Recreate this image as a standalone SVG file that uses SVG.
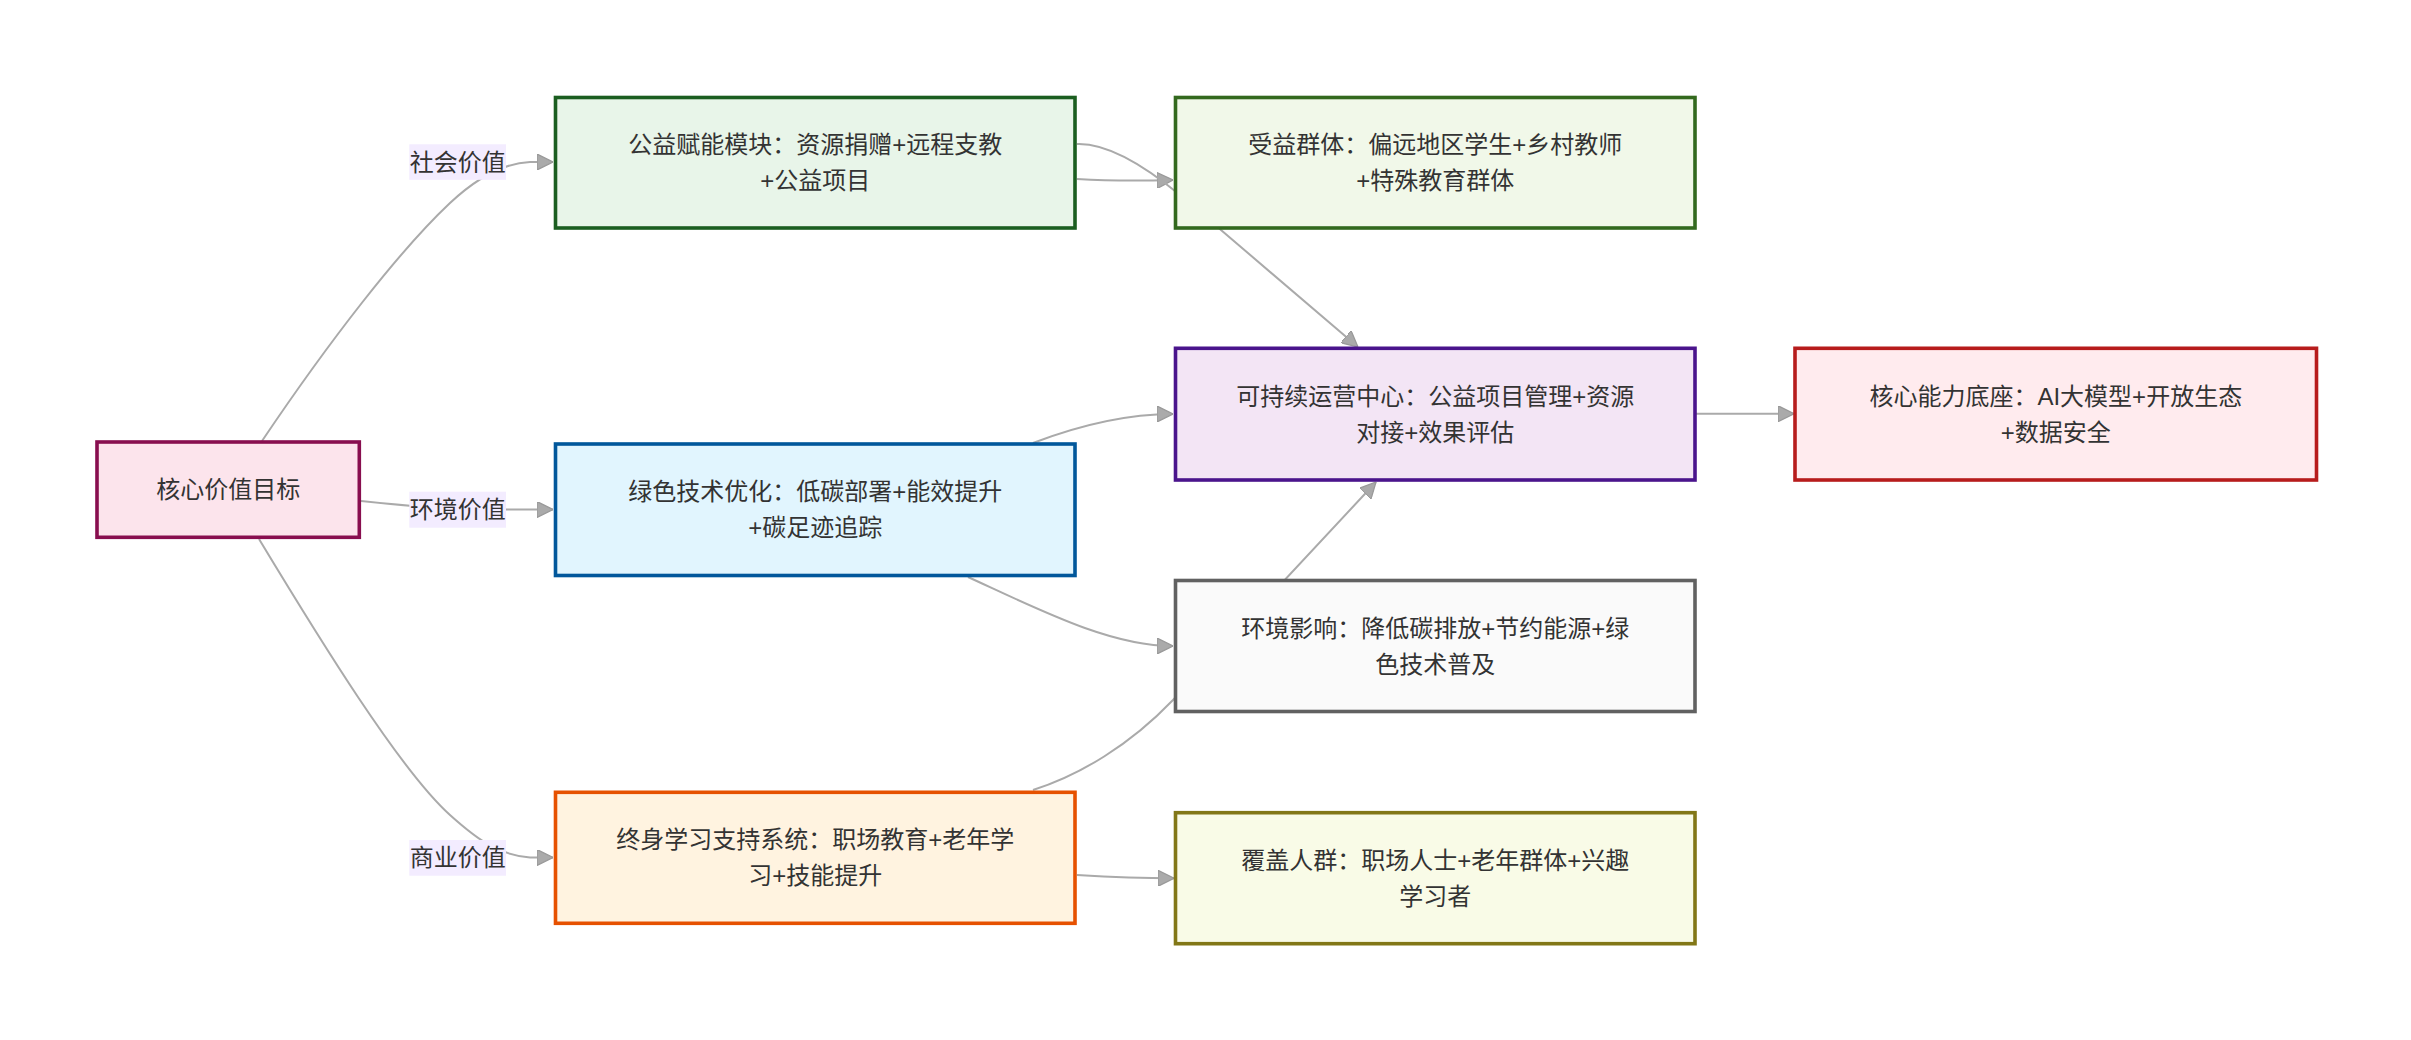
<svg xmlns="http://www.w3.org/2000/svg" width="2411" height="1040" viewBox="0 0 2411 1040">
<style>
  .node rect { stroke-width: 3.6; }
  .node text, .lbl text { font-family: "Liberation Sans", "Noto Sans CJK SC", sans-serif; font-size: 24px; fill: #333333; text-anchor: middle; dominant-baseline: central; }
  .edge { fill: none; stroke: #aaaaaa; stroke-width: 2; }
  .lbl rect { fill: #f3ecff; }
</style>
<defs>
  <marker id="arrow" viewBox="0 0 10 10" refX="10" refY="5" markerUnits="userSpaceOnUse" markerWidth="16" markerHeight="16" orient="auto">
    <path d="M0,0 L10,5 L0,10 z" fill="#aaaaaa" stroke="#999999" stroke-width="0.8"/>
  </marker>
</defs>
<rect x="0" y="0" width="2411" height="1040" fill="#ffffff"/>
<g id="connectors">
  <path class="edge" d="M262,441 C330,340 400,250 450,203 C480,175 505,163 530,162 L553,162" marker-end="url(#arrow)"/>
  <path class="edge" d="M361,501 C400,505 440,509 470,509.5 L553,509.5" marker-end="url(#arrow)"/>
  <path class="edge" d="M259,539 C320,640 400,770 450,815 C480,842 500,855 530,857.5 L553,857.5" marker-end="url(#arrow)"/>
  <path class="edge" d="M1077,179 C1110,181 1140,181 1173,180" marker-end="url(#arrow)"/>
  <path class="edge" d="M1077,144 C1105,143 1140,162 1180,195 L1358,347" marker-end="url(#arrow)"/>
  <path class="edge" d="M1033,443 C1080,425 1130,414 1173,414" marker-end="url(#arrow)"/>
  <path class="edge" d="M968,577 C1040,610 1110,646 1173,646" marker-end="url(#arrow)"/>
  <path class="edge" d="M1033,790 C1080,775 1130,745 1173,700 L1376,482" marker-end="url(#arrow)"/>
  <path class="edge" d="M1077,875 C1110,877 1140,878.3 1174,878.3" marker-end="url(#arrow)"/>
  <path class="edge" d="M1695,413.7 L1794,413.7" marker-end="url(#arrow)"/>
</g>
<g id="edge-labels">
  <g class="lbl" id="label-social"><rect x="409.3" y="144.3" width="96.7" height="35.5"/><text x="457.7" y="162">社会价值</text></g>
  <g class="lbl" id="label-env"><rect x="409.3" y="491.7" width="96.7" height="36"/><text x="457.7" y="509.7">环境价值</text></g>
  <g class="lbl" id="label-biz"><rect x="409.3" y="840" width="96.7" height="35.7"/><text x="457.7" y="857.8">商业价值</text></g>
</g>
<g class="node" id="node-core">
  <rect x="97" y="442" width="262.3" height="95.3" fill="#fce4ec" stroke="#880e4f"/>
  <text x="228.2" y="489.7">核心价值目标</text>
</g>
<g class="node" id="node-public">
  <rect x="555.5" y="97.5" width="519.5" height="130.5" fill="#e8f5e9" stroke="#1b5e20"/>
  <text x="815.3" y="144.7">公益赋能模块：资源捐赠+远程支教</text>
  <text x="815.3" y="180.7">+公益项目</text>
</g>
<g class="node" id="node-benef">
  <rect x="1175.5" y="97.5" width="519.5" height="130.5" fill="#f1f8e9" stroke="#33691e"/>
  <text x="1435.3" y="144.7">受益群体：偏远地区学生+乡村教师</text>
  <text x="1435.3" y="180.7">+特殊教育群体</text>
</g>
<g class="node" id="node-ops">
  <rect x="1175.5" y="348.3" width="519.5" height="131.7" fill="#f3e5f5" stroke="#4a148c"/>
  <text x="1435.3" y="396">可持续运营中心：公益项目管理+资源</text>
  <text x="1435.3" y="432">对接+效果评估</text>
</g>
<g class="node" id="node-base">
  <rect x="1795" y="348.3" width="521.5" height="131.7" fill="#ffebee" stroke="#b71c1c"/>
  <text x="2055.8" y="396">核心能力底座：AI大模型+开放生态</text>
  <text x="2055.8" y="432">+数据安全</text>
</g>
<g class="node" id="node-green">
  <rect x="555.5" y="444" width="519.5" height="131.5" fill="#e1f5fe" stroke="#01579b"/>
  <text x="815.3" y="491.7">绿色技术优化：低碳部署+能效提升</text>
  <text x="815.3" y="527.7">+碳足迹追踪</text>
</g>
<g class="node" id="node-impact">
  <rect x="1175.5" y="580.5" width="519.5" height="131" fill="#fafafa" stroke="#616161"/>
  <text x="1435.3" y="628">环境影响：降低碳排放+节约能源+绿</text>
  <text x="1435.3" y="664">色技术普及</text>
</g>
<g class="node" id="node-lifelong">
  <rect x="555.5" y="792.3" width="519.5" height="131" fill="#fff3e0" stroke="#e65100"/>
  <text x="815.3" y="839.8">终身学习支持系统：职场教育+老年学</text>
  <text x="815.3" y="875.8">习+技能提升</text>
</g>
<g class="node" id="node-cover">
  <rect x="1175.5" y="812.7" width="519.5" height="131" fill="#f9fbe7" stroke="#827717"/>
  <text x="1435.3" y="860.2">覆盖人群：职场人士+老年群体+兴趣</text>
  <text x="1435.3" y="896.2">学习者</text>
</g>
</svg>
